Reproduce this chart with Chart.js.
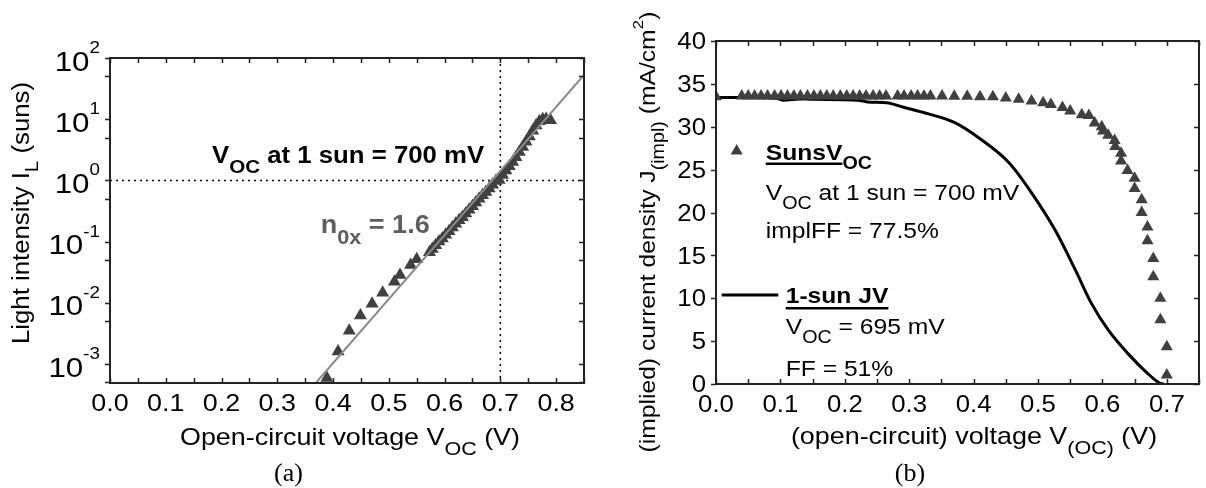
<!DOCTYPE html>
<html>
<head>
<meta charset="utf-8">
<script src="https://cdn.jsdelivr.net/npm/chart.js@4.4.1/dist/chart.umd.min.js"></script>
<style>
  html, body { margin: 0; padding: 0; background: #fff; }
  #wrap { position: relative; width: 1206px; height: 488px; overflow: hidden; }
  canvas { position: absolute; top: 0; }
  #cA { left: 0; }
  #cB { left: 600px; }
</style>
</head>
<body>
<div id="wrap">
  <canvas id="cA" width="600" height="488"></canvas>
  <canvas id="cB" width="606" height="488"></canvas>
</div>
<script>
// (a) Suns-Voc: light intensity vs open-circuit voltage
const sunsV = [0.389, 0.409, 0.429, 0.449, 0.470, 0.489, 0.510, 0.520, 0.539, 0.550,
  0.573, 0.578, 0.584, 0.590, 0.596, 0.602, 0.608, 0.614, 0.620, 0.626,
  0.632, 0.638, 0.644, 0.650, 0.656, 0.662, 0.668, 0.674, 0.680, 0.686,
  0.692, 0.698, 0.704, 0.710, 0.716, 0.722, 0.728, 0.734, 0.740, 0.746,
  0.752, 0.758, 0.764, 0.770, 0.776, 0.782, 0.790];
const sunsI = [5.9e-4, 1.6e-3, 3.5e-3, 6.2e-3, 9.7e-3, 0.0146, 0.0221, 0.0284, 0.0415, 0.0514,
  0.0668, 0.076, 0.087, 0.100, 0.112, 0.129, 0.148, 0.170, 0.195, 0.224,
  0.251, 0.288, 0.331, 0.380, 0.437, 0.501, 0.575, 0.646, 0.741, 0.851,
  0.977, 1.02, 1.23, 1.45, 1.70, 2.0, 2.4, 2.9, 3.5, 4.3,
  5.2, 6.5, 7.9, 9.3, 10.0, 10.1, 9.6];
// ideality fit (n = 1.6)
const fitV = [0.369, 0.85];
const fitI = [4.9e-4, 52.7];

// (b) implied J-V from Suns-Voc and measured 1-sun J-V
const implV = [0.000, 0.040, 0.050, 0.060, 0.070, 0.080, 0.091, 0.101, 0.111, 0.121,
  0.131, 0.142, 0.152, 0.162, 0.172, 0.182, 0.193, 0.203, 0.213, 0.223,
  0.233, 0.244, 0.254, 0.264, 0.282, 0.292, 0.303, 0.313, 0.323, 0.333,
  0.351, 0.370, 0.390, 0.410, 0.430, 0.450, 0.470, 0.490, 0.508, 0.520,
  0.538, 0.550, 0.568, 0.579, 0.588, 0.599, 0.601, 0.609, 0.619, 0.620,
  0.629, 0.629, 0.639, 0.650, 0.650, 0.661, 0.661, 0.670, 0.670, 0.679,
  0.679, 0.690, 0.690, 0.700, 0.700];
const implJ = [33.5, 33.6, 33.6, 33.6, 33.6, 33.6, 33.6, 33.6, 33.6, 33.6,
  33.6, 33.6, 33.6, 33.6, 33.6, 33.6, 33.6, 33.6, 33.6, 33.6,
  33.6, 33.6, 33.6, 33.6, 33.6, 33.6, 33.6, 33.6, 33.6, 33.6,
  33.6, 33.55, 33.55, 33.5, 33.5, 33.35, 33.2, 33.0, 32.8, 32.6,
  32.25, 31.85, 31.4, 31.3, 30.45, 30.0, 29.5, 29.0, 28.4, 27.7,
  26.9, 26.0, 24.9, 24.0, 22.8, 21.5, 20.0, 18.3, 16.7, 14.65,
  12.5, 10.0, 7.5, 4.35, 1.05];
const jvV = [0, 0.06, 0.095, 0.105, 0.13, 0.15, 0.22, 0.235, 0.265, 0.29, 0.33, 0.37,
  0.41, 0.455, 0.49, 0.527, 0.558, 0.583, 0.609, 0.639, 0.670, 0.688, 0.695];
const jvJ = [33.4, 33.4, 33.3, 33.1, 33.25, 33.2, 33.1, 32.9, 32.8, 32.3, 31.5, 30.5,
  28.6, 25.8, 22.3, 17.9, 13.3, 9.4, 6.3, 3.6, 1.25, 0.15, 0];

// tick labels
const voltLabelsA = [0, 0.1, 0.2, 0.3, 0.4, 0.5, 0.6, 0.7, 0.8];
const decadesA = [-3, -2, -1, 0, 1, 2];
const voltLabelsB = [0, 0.1, 0.2, 0.3, 0.4, 0.5, 0.6, 0.7];
const jLabelsB = [0, 5, 10, 15, 20, 25, 30, 35, 40];

const SANS = '"Liberation Sans", Arial, Helvetica, sans-serif';
const SERIF = '"Liberation Serif", "Times New Roman", serif';
const AXIS = '#222';
const MARK = '#404040';
const TRI_B = 7;

const pts = (xs, ys) => xs.map((v, i) => ({ x: v, y: ys[i] }));

// text with sub/superscript runs, stretched slightly along the text direction
function rich(ctx, parts, x, y, o) {
  const size = o.size, sx = o.sx || 1.12;
  const subK = o.subK || 0.8, supK = o.supK || 0.7;
  const wt = o.bold ? 'bold ' : '';
  let w = 0;
  const runs = parts.map(p => {
    const k = p[1] || '';
    const fs = k === 'sub' ? size * subK : k === 'sup' ? size * supK : size;
    const font = wt + fs.toFixed(1) + 'px ' + SANS;
    ctx.font = font;
    const run = { t: p[0], k, font, dx: w, w: ctx.measureText(p[0]).width };
    w += run.w;
    return run;
  });
  ctx.save();
  ctx.translate(x, y);
  if (o.rot) ctx.rotate(o.rot);
  ctx.scale(sx, 1);
  const x0 = o.align === 'center' ? -w / 2 : o.align === 'right' ? -w : 0;
  ctx.fillStyle = o.color || '#000';
  ctx.textAlign = 'left';
  ctx.textBaseline = 'alphabetic';
  runs.forEach(r => {
    ctx.font = r.font;
    const dy = r.k === 'sub' ? size * (o.subDy || 0.43) : r.k === 'sup' ? -size * (o.supDy || 0.55) : 0;
    ctx.fillText(r.t, x0 + r.dx, dy);
  });
  if (o.underline) {
    const last = runs[o.underline - 1];
    ctx.fillRect(x0, o.ulDy || 3, last.dx + last.w, 2.5);
  }
  ctx.restore();
}

function frame(ctx, a) {
  ctx.strokeStyle = AXIS;
  ctx.lineWidth = 2;
  ctx.strokeRect(a.left, a.top, a.right - a.left, a.bottom - a.top);
}

// ticks: left side points outward, the other three sides inward
function ticks(ctx, a, xs, ys, xVals, yVals) {
  ctx.strokeStyle = AXIS;
  ctx.lineWidth = 1.5;
  ctx.beginPath();
  xVals.forEach(v => {
    const px = Math.round(xs.getPixelForValue(v)) + 0.5;
    ctx.moveTo(px, a.bottom); ctx.lineTo(px, a.bottom - 5);
    ctx.moveTo(px, a.top); ctx.lineTo(px, a.top + 5);
  });
  yVals.forEach(v => {
    const py = Math.round(ys.getPixelForValue(v)) + 0.5;
    ctx.moveTo(a.left, py); ctx.lineTo(a.left - 5, py);
    ctx.moveTo(a.right, py); ctx.lineTo(a.right - 5, py);
  });
  ctx.stroke();
}

const panelA = {
  id: 'panelA',
  beforeDatasetsDraw(chart) {
    const { ctx, chartArea: a, scales: { x, y } } = chart;
    ctx.save();
    ctx.strokeStyle = '#000';
    ctx.lineWidth = 1.5;
    ctx.setLineDash([2, 4]);
    const py = y.getPixelForValue(1);
    const px = x.getPixelForValue(0.7);
    ctx.beginPath();
    ctx.moveTo(a.left, py); ctx.lineTo(a.right, py);
    ctx.moveTo(px, a.top); ctx.lineTo(px, a.bottom);
    ctx.stroke();
    ctx.restore();
  },
  afterDraw(chart) {
    const { ctx, chartArea: a, scales: { x, y } } = chart;
    ctx.save();
    const xt = [];
    for (let i = 0; i <= 17; i++) xt.push(i * 0.05);
    const yt = [];
    decadesA.forEach(e => { yt.push(Math.pow(10, e)); yt.push(5 * Math.pow(10, e)); });
    yt.push(5e-4);
    ticks(ctx, a, x, y, xt, yt.filter(v => v <= 100));
    frame(ctx, a);

    voltLabelsA.forEach(v => {
      rich(ctx, [[v.toFixed(1)]], x.getPixelForValue(v), a.bottom + 28, { size: 24, align: 'center' });
    });
    decadesA.forEach(e => {
      rich(ctx, [['10'], [String(e), 'sup']], a.left - 10, y.getPixelForValue(Math.pow(10, e)) + 12.5,
        { size: 28, supK: 0.6, supDy: 0.625, align: 'right' });
    });

    rich(ctx, [['Open-circuit voltage V'], ['OC', 'sub'], [' (V)']], 350, 445, { size: 24, align: 'center' });
    rich(ctx, [['Light intensity I'], ['L', 'sub'], [' (suns)']], 28.5, 213,
      { size: 23, align: 'center', rot: -Math.PI / 2 });

    rich(ctx, [['V'], ['OC', 'sub'], [' at 1 sun = 700 mV']], 212, 163, { size: 23, bold: true });
    rich(ctx, [['n'], ['0x', 'sub'], [' = 1.6']], 320.7, 233, { size: 26, bold: true, color: '#5e5e5e', sx: 1.04 });

    ctx.font = '26px ' + SERIF;
    ctx.fillStyle = '#000';
    ctx.textAlign = 'center';
    ctx.textBaseline = 'alphabetic';
    ctx.fillText('(a)', 288.5, 481);
    ctx.restore();
  }
};

const panelB = {
  id: 'panelB',
  afterDraw(chart) {
    const { ctx, chartArea: a, scales: { x, y } } = chart;
    ctx.save();
    const xt = [];
    for (let i = 0; i <= 15; i++) xt.push(i * 0.05);
    ticks(ctx, a, x, y, xt, jLabelsB);
    frame(ctx, a);

    voltLabelsB.forEach(v => {
      rich(ctx, [[v.toFixed(1)]], x.getPixelForValue(v), a.bottom + 28, { size: 23, align: 'center' });
    });
    jLabelsB.forEach(v => {
      rich(ctx, [[String(v)]], a.left - 10, y.getPixelForValue(v) + 8.2, { size: 23, align: 'right' });
    });

    rich(ctx, [['(open-circuit) voltage V'], ['(OC)', 'sub'], [' (V)']], 374, 444, { size: 24, align: 'center' });
    rich(ctx, [['(implied) current density J'], ['(impl)', 'sub'], [' (mA/cm'], ['2', 'sup'], [')']], 55, 232,
      { size: 22, align: 'center', rot: -Math.PI / 2 });

    // legend: SunsVoc triangles
    const tx = 136.7, ty = 151, r = TRI_B;
    ctx.fillStyle = MARK;
    ctx.beginPath();
    ctx.moveTo(tx, ty - r);
    ctx.lineTo(tx + r * Math.sin(2 * Math.PI / 3), ty - r * Math.cos(2 * Math.PI / 3));
    ctx.lineTo(tx - r * Math.sin(2 * Math.PI / 3), ty - r * Math.cos(2 * Math.PI / 3));
    ctx.closePath();
    ctx.fill();
    rich(ctx, [['SunsV'], ['OC', 'sub']], 165.7, 160, { size: 22, bold: true, underline: 1, ulDy: 2.5 });
    rich(ctx, [['V'], ['OC', 'sub'], [' at 1 sun = 700 mV']], 165.7, 200, { size: 22 });
    rich(ctx, [['implFF = 77.5%']], 165.7, 238, { size: 22 });

    // legend: 1-sun JV line
    ctx.strokeStyle = '#000';
    ctx.lineWidth = 3;
    ctx.beginPath();
    ctx.moveTo(121.7, 295); ctx.lineTo(178.3, 295);
    ctx.stroke();
    rich(ctx, [['1-sun JV']], 185.7, 303, { size: 22, bold: true, underline: 1, ulDy: 4 });
    rich(ctx, [['V'], ['OC', 'sub'], [' = 695 mV']], 185.7, 334, { size: 22 });
    rich(ctx, [['FF = 51%']], 185.7, 376, { size: 22 });

    ctx.font = '26px ' + SERIF;
    ctx.fillStyle = '#000';
    ctx.textAlign = 'center';
    ctx.textBaseline = 'alphabetic';
    ctx.fillText('(b)', 310, 481);
    ctx.restore();
  }
};

new Chart(document.getElementById('cA'), {
  type: 'scatter',
  data: {
    datasets: [
      {
        type: 'line', data: pts(fitV, fitI), borderColor: '#8a8a8a', borderWidth: 2,
        pointRadius: 0, fill: false, order: 0
      },
      {
        data: pts(sunsV, sunsI), pointStyle: 'triangle', pointRadius: 7.5,
        backgroundColor: MARK, borderColor: MARK, borderWidth: 0, order: 1
      }
    ]
  },
  options: {
    responsive: false,
    animation: false,
    events: [],
    layout: { padding: { left: 110, top: 58, right: 16, bottom: 105 } },
    plugins: { legend: { display: false }, tooltip: { enabled: false } },
    scales: {
      x: { type: 'linear', min: 0, max: 0.85, display: false },
      y: { type: 'logarithmic', min: 4.9e-4, max: 100, display: false }
    }
  },
  plugins: [panelA]
});

new Chart(document.getElementById('cB'), {
  type: 'scatter',
  data: {
    datasets: [
      {
        data: pts(implV, implJ), pointStyle: 'triangle', pointRadius: TRI_B,
        backgroundColor: MARK, borderColor: MARK, borderWidth: 0, order: 0
      },
      {
        type: 'line', data: pts(jvV, jvJ), borderColor: '#000', borderWidth: 3,
        pointRadius: 0, fill: false, cubicInterpolationMode: 'monotone', order: 1
      }
    ]
  },
  options: {
    responsive: false,
    animation: false,
    events: [],
    layout: { padding: { left: 116, top: 41, right: 1, bottom: 104 } },
    plugins: { legend: { display: false }, tooltip: { enabled: false } },
    scales: {
      x: { type: 'linear', min: 0, max: 0.75, display: false },
      y: { type: 'linear', min: 0, max: 40, display: false }
    }
  },
  plugins: [panelB]
});
</script>
</body>
</html>
